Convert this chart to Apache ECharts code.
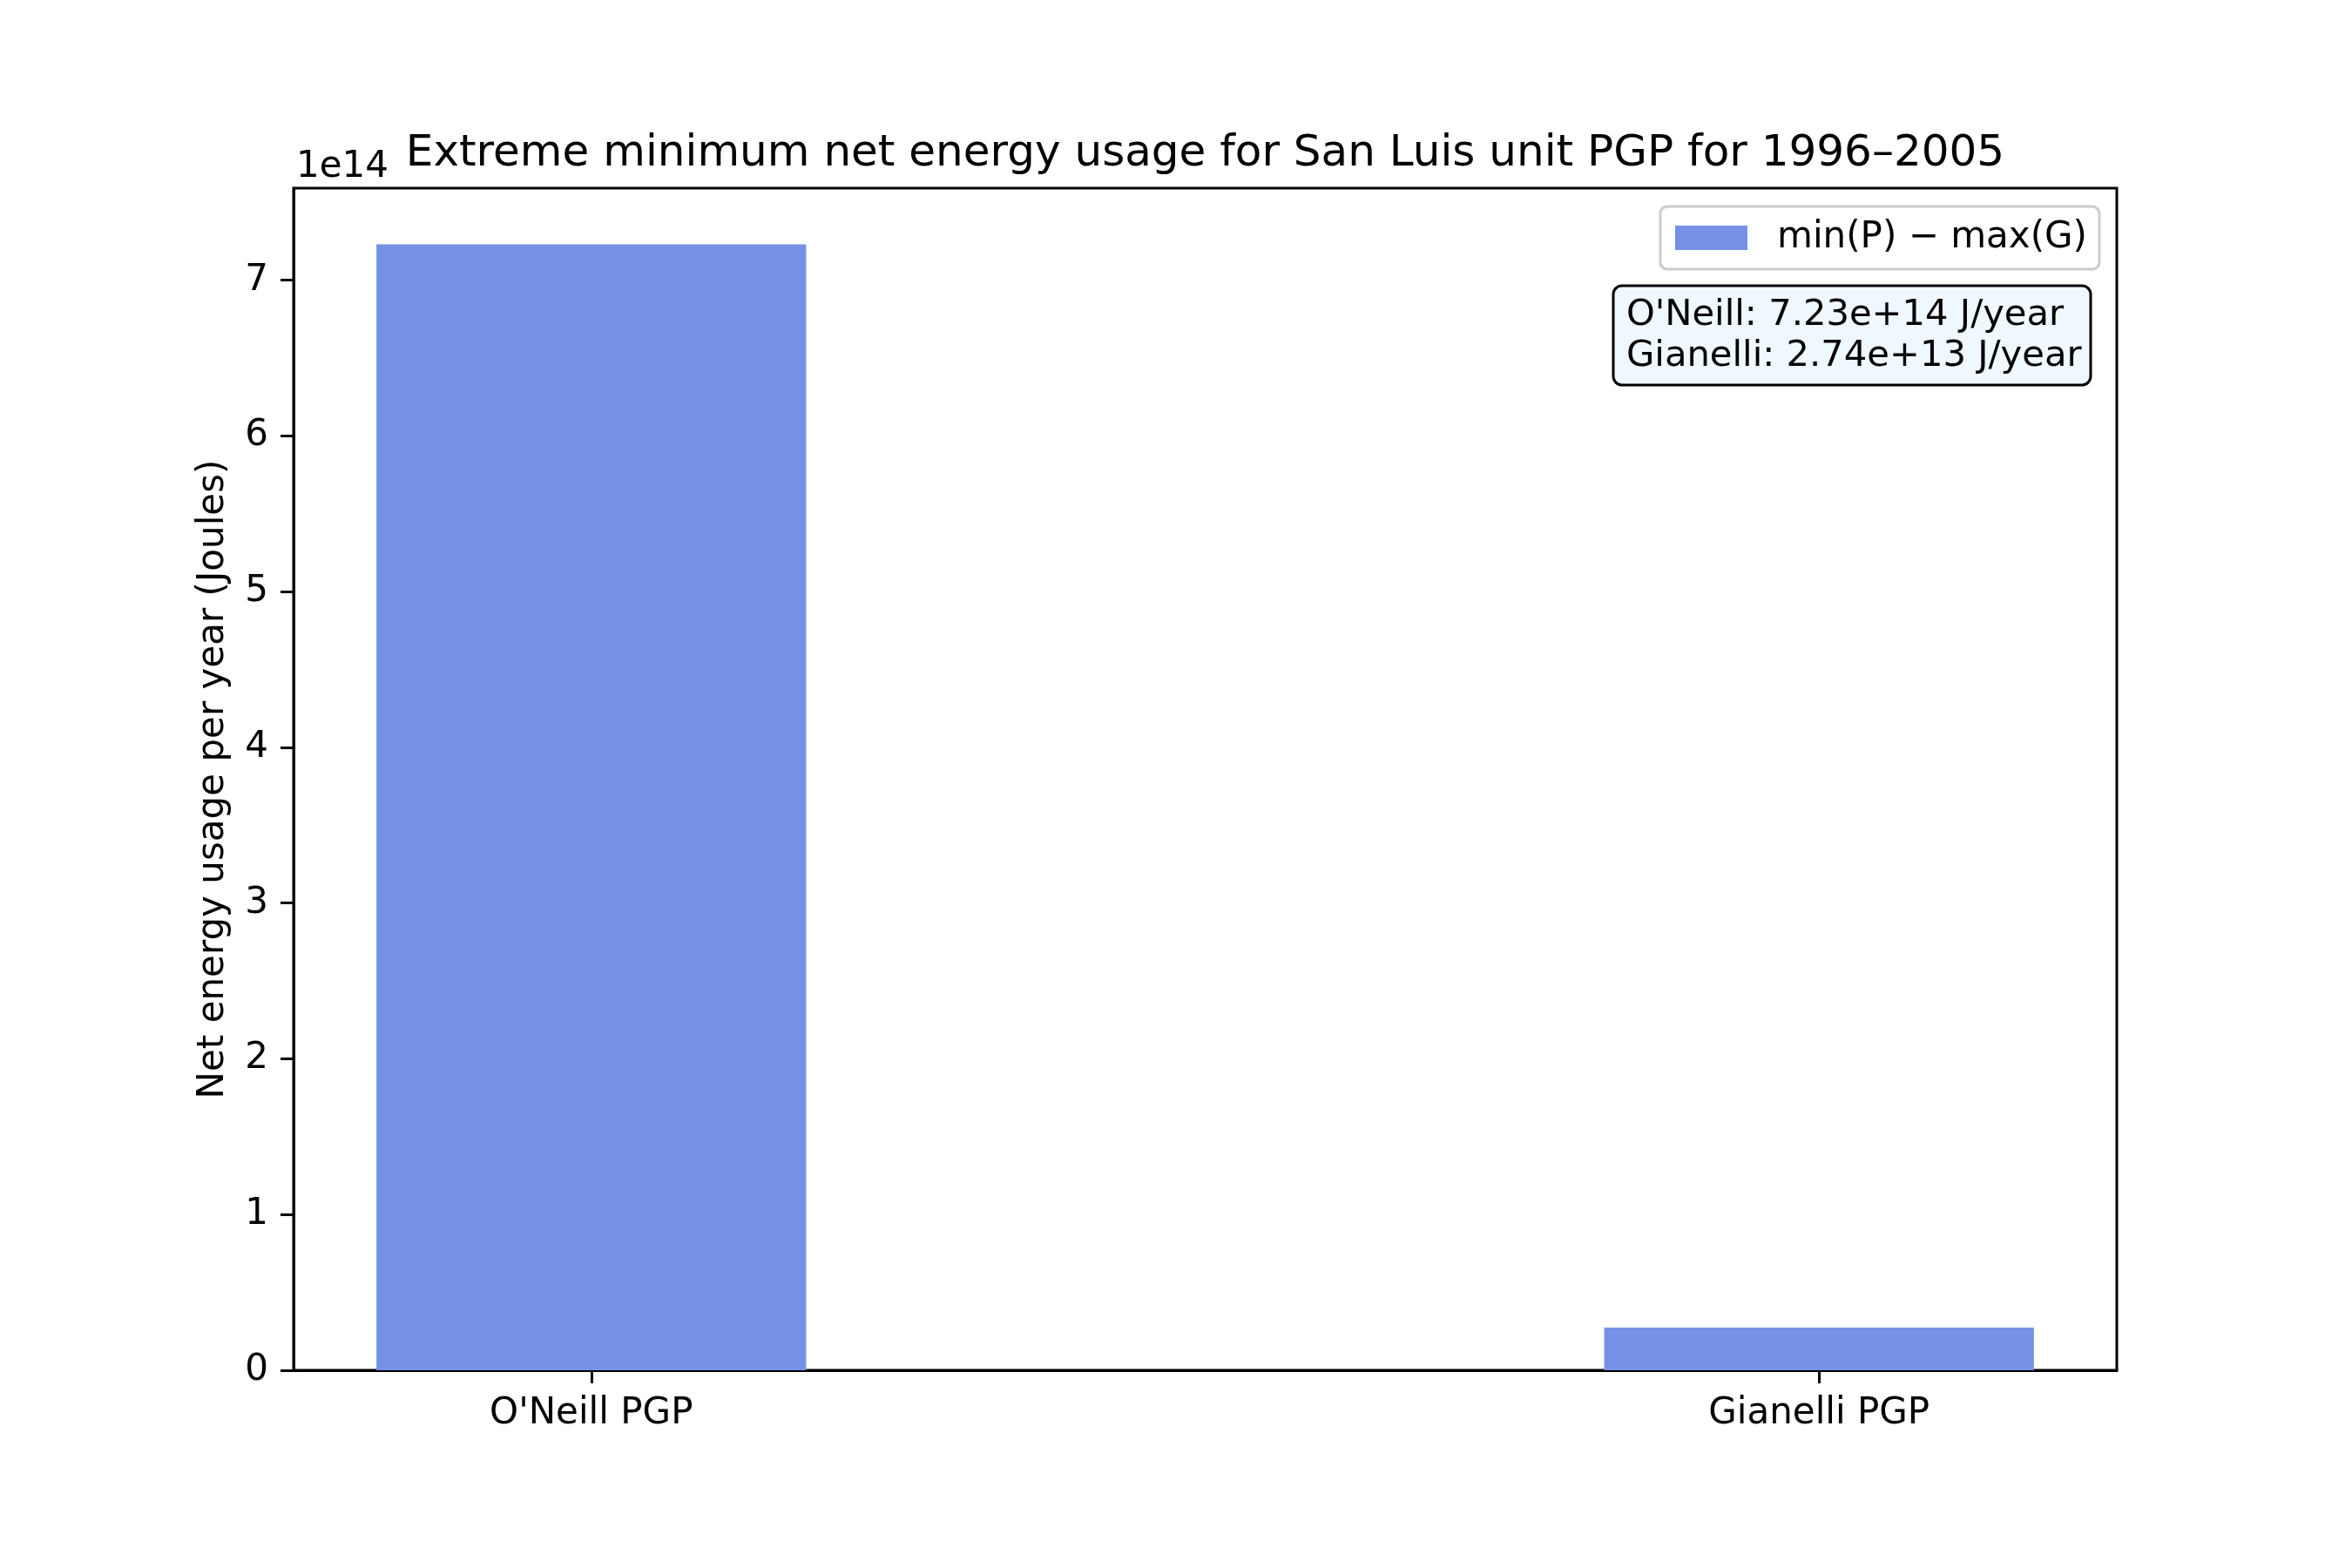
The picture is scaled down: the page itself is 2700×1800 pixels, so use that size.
<!DOCTYPE html>
<html><head><meta charset="utf-8">
<script src="https://cdn.jsdelivr.net/npm/echarts@6/dist/echarts.min.js"></script>
<style>html,body{margin:0;padding:0;background:#fff}#c{width:2700px;height:1800px}</style>
</head><body><div id="c"></div>
<script>
const categories = ["O'Neill PGP", "Gianelli PGP"];
const shortNames = ["O'Neill", "Gianelli"];
const netEnergy = [7.23e14, 2.74e13];
const yTickLabels = [0, 1, 2, 3, 4, 5, 6, 7];
const yScale = 1e14;
const seriesName = 'min(P) \u2212 max(G)';
const titleText = 'Extreme minimum net energy usage for San Luis unit PGP for 1996\u20132005';
const yName = 'Net energy usage per year (Joules)';

const FONT = 'DejaVu Sans';
const W = 2700, H = 1800;
const grid = {left: 337, right: 270, top: 216, bottom: 227};
const plotW = W - grid.left - grid.right;
const barW = 0.35;
const span = (categories.length - 1) + barW;
const xMin = -barW / 2 - 0.05 * span;
const xMax = categories.length - 1 + barW / 2 + 0.05 * span;
const barPx = barW / (xMax - xMin) * plotW;
const yMax = Math.max(...netEnergy) * 1.05;
const annText = shortNames.map((n, i) => n + ': ' + netEnergy[i].toExponential(2) + ' J/year').join('\n');

const chart = echarts.init(document.getElementById('c'), null, {renderer: 'canvas'});
chart.setOption({
  animation: false,
  backgroundColor: '#fff',
  grid: {left: grid.left, right: grid.right, top: grid.top, bottom: grid.bottom, show: true,
         borderColor: '#000', borderWidth: 3, backgroundColor: '#fff'},
  legend: {
    right: 290, top: 237, itemWidth: 83, itemHeight: 28,
    padding: [15, 14, 15, 17], backgroundColor: '#fff', borderColor: '#cccccc',
    borderWidth: 3, borderRadius: 8, icon: 'rect',
    textStyle: {fontSize: 42, fontFamily: FONT, color: '#000', padding: [0, 0, 0, 29]},
    data: [{name: seriesName}]
  },
  xAxis: {
    type: 'value', min: xMin, max: xMax,
    axisLine: {show: true, onZero: false, lineStyle: {color: '#000', width: 3}},
    axisTick: {show: true, length: 15, lineStyle: {color: '#000', width: 3}, customValues: categories.map((c, i) => i)},
    axisLabel: {show: true, margin: 29, fontSize: 42, fontFamily: FONT, color: '#000',
                customValues: categories.map((c, i) => i),
                formatter: v => categories[Math.round(v)]},
    splitLine: {show: false}
  },
  yAxis: {
    type: 'value', min: 0, max: yMax,
    name: yName, nameLocation: 'middle', nameGap: 71,
    nameTextStyle: {fontSize: 42, fontFamily: FONT, color: '#000'},
    axisLine: {show: true, onZero: false, lineStyle: {color: '#000', width: 3}},
    axisTick: {show: true, length: 15, lineStyle: {color: '#000', width: 3}, customValues: yTickLabels.map(t => t * yScale)},
    axisLabel: {show: true, margin: 29, fontSize: 42, fontFamily: FONT, color: '#000',
                padding: [14, 0, 0, 0],
                customValues: yTickLabels.map(t => t * yScale),
                formatter: v => String(Math.round(v / yScale))},
    splitLine: {show: false}
  },
  series: [{
    name: seriesName, type: 'bar', barWidth: barPx,
    itemStyle: {color: '#7592e8'},
    data: netEnergy.map((v, i) => [i, v])
  }],
  graphic: [
    {type: 'text', x: grid.left + plotW / 2, y: 177,
     style: {text: titleText, font: '50px "' + FONT + '"', fill: '#000', align: 'center', verticalAlign: 'middle'}},
    {type: 'text', x: 340, y: 192,
     style: {text: '1e' + Math.round(Math.log10(yScale)), font: '42px "' + FONT + '"', fill: '#000', align: 'left', verticalAlign: 'middle'}},
    {type: 'rect', shape: {x: 1852, y: 328, width: 548, height: 114, r: 10},
     style: {fill: '#f0f8ff', stroke: '#000', lineWidth: 3}, z: 100},
    {type: 'text', x: 1867, y: 385.5, z: 101,
     style: {text: annText, font: '41.7px "' + FONT + '"', fill: '#000', align: 'left', verticalAlign: 'middle', lineHeight: 47}}
  ]
});
</script></body></html>
